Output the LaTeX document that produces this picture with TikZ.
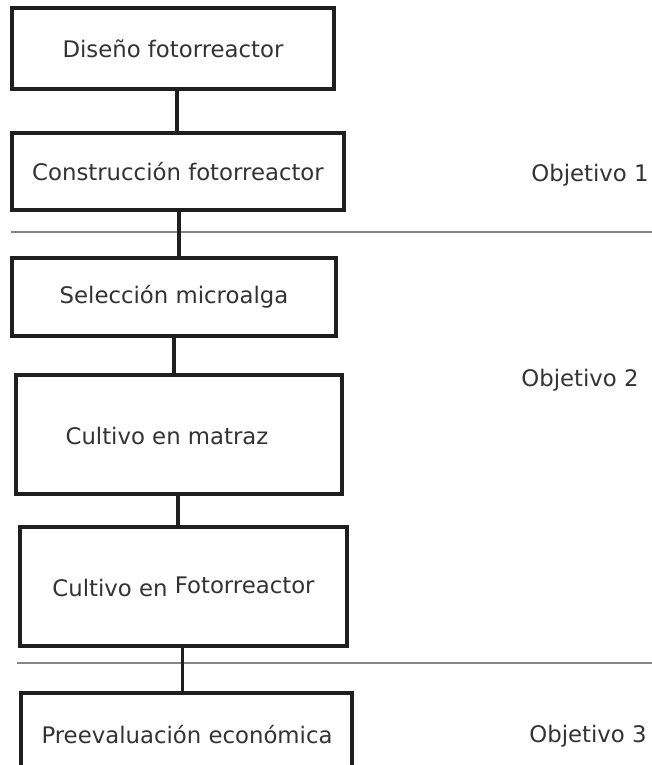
\documentclass[tikz,border=0pt]{standalone}
\usepackage{fontspec}
\setmainfont{DejaVu Sans}
\begin{document}
\begin{tikzpicture}[x=1pt,y=-1pt,
  box/.style={draw=black!88, line width=3.2pt, fill=white, inner sep=0pt, text=black!80, font=\fontsize{22.8}{26}\selectfont},
  conn/.style={draw=black!88, line width=3.2pt},
  sep/.style={draw=black!48, line width=2.8pt},
  obj/.style={text=black!80, inner sep=0pt, font=\fontsize{22.8}{26}\selectfont}]
\clip (0,0) rectangle (652,765);
\fill[white] (0,0) rectangle (652,765);
% separators
\coordinate (s1a) at (11,232);
\coordinate (s1b) at (652,232);
\coordinate (s2a) at (17,663);
\coordinate (s2b) at (652,663);
\draw[sep] (s1a) -- (s1b);
\draw[sep] (s2a) -- (s2b);
% boxes
\node[box, minimum width=322, minimum height=81] (b1) at (173,48.5) {Diseño fotorreactor};
\node[box, minimum width=332, minimum height=77] (b2) at (178,171.5) {Construcción fotorreactor};
\node[box, minimum width=324, minimum height=78] (b3) at (174,297) {Selección microalga};
\node[box, minimum width=326, minimum height=119] (b4) at (179,434.5) {};
\node[obj] (t4) at (167,436) {Cultivo en matraz};
\node[box, minimum width=327, minimum height=119] (b5) at (183.5,586.5) {Cultivo en \raisebox{3pt}{Fotorreactor}};
\node[box, minimum width=331, minimum height=100] (b6) at (186.5,743) {};
\node[obj] (t6) at (187,735) {Preevaluación económica};
% connectors
\draw[conn] ([xshift=4pt]b1.south) -- ([xshift=4pt]b1.south |- b2.north);
\draw[conn] ([xshift=1pt]b2.south) -- ([xshift=1pt]b2.south |- b3.north);
\draw[conn] (b3.south) -- (b3.south |- b4.north);
\draw[conn] ([xshift=-1pt]b4.south) -- ([xshift=-1pt]b4.south |- b5.north);
\draw[conn] ([xshift=-1pt]b5.south) -- ([xshift=-1pt]b5.south |- b6.north);
% objective labels
\node[obj] (o1) at (590,175) {Objetivo 1};
\node[obj] (o2) at (580,380) {Objetivo 2};
\node[obj] (o3) at (588,736) {Objetivo 3};
\end{tikzpicture}
\end{document}
